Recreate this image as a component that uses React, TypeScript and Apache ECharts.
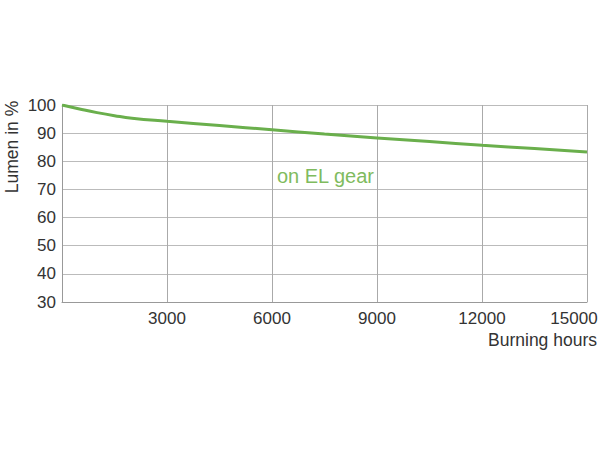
import { useEffect, useRef } from 'react';
import * as echarts from 'echarts';

const hours = [0, 500, 1000, 1500, 2000, 3000, 4500, 6000, 7500, 9000, 10500, 12000, 13500, 15000];
const lumen = [100, 98.6, 97.3, 96.2, 95.3, 94.2, 92.7, 91.2, 89.7, 88.3, 87.0, 85.7, 84.5, 83.3];
const seriesLabel = 'on EL gear';
const labelAt = [6140, 74.8];
const yTitle = 'Lumen in %';
const xTitle = 'Burning hours';

const FONT = '"Liberation Sans", Arial, sans-serif';
const TEXT = '#333';

export default function App() {
  const chartRef = useRef<HTMLDivElement>(null);

  useEffect(() => {
    if (!chartRef.current) return;
    const chart = echarts.init(chartRef.current, undefined, { renderer: 'svg' });

    chart.setOption({
      animation: false,
      grid: { left: 62, right: 13, top: 105, bottom: 148, outerBoundsMode: 'none', containLabel: false },
      graphic: [
        {
          type: 'text',
          x: 12,
          y: 147,
          rotation: Math.PI / 2,
          style: {
            text: yTitle,
            fill: TEXT,
            font: `17.5px ${FONT}`,
            align: 'center',
            verticalAlign: 'middle',
          },
        },
      ],
      xAxis: {
        type: 'value',
        min: 0,
        max: 15000,
        interval: 3000,
        name: xTitle,
        nameLocation: 'end',
        nameGap: 0,
        nameTextStyle: {
          color: TEXT,
          fontSize: 17.5,
          fontFamily: FONT,
          align: 'right',
          verticalAlign: 'top',
          padding: [29, -10, 0, 0],
        },
        axisLine: { show: true, lineStyle: { color: '#999', width: 1 } },
        axisTick: { show: false },
        axisLabel: {
          color: TEXT,
          fontSize: 17,
          fontFamily: FONT,
          margin: 8,
          formatter: (v: number) => (v === 0 ? '' : v === 15000 ? `{last|${v}}` : String(v)),
          rich: {
            last: { color: TEXT, fontSize: 17, fontFamily: FONT, padding: [0, 26, 0, 0] },
          },
        },
        splitLine: { show: true, lineStyle: { color: '#aaa', width: 1 } },
      },
      yAxis: {
        type: 'value',
        min: 30,
        max: 100,
        interval: 10,
        axisLine: { show: true, lineStyle: { color: '#999', width: 1 } },
        axisTick: { show: false },
        axisLabel: { color: TEXT, fontSize: 17, fontFamily: FONT, margin: 6 },
        splitLine: { show: true, lineStyle: { color: '#bbb', width: 1 } },
      },
      series: [
        {
          type: 'line',
          data: hours.map((h, i) => [h, lumen[i]]),
          smooth: 0.5,
          showSymbol: false,
          lineStyle: { color: '#6aaf4c', width: 3 },
          itemStyle: { color: '#6aaf4c' },
          markPoint: {
            silent: true,
            symbol: 'rect',
            symbolSize: 0,
            data: [
              {
                coord: labelAt,
                label: {
                  show: true,
                  formatter: seriesLabel,
                  color: '#7fbb5e',
                  fontSize: 20,
                  fontFamily: FONT,
                  align: 'left',
                  position: 'inside',
                },
              },
            ],
          },
        },
      ],
    });

    return () => chart.dispose();
  }, []);

  return (
    <div
      ref={chartRef}
      style={{ position: 'fixed', left: 0, top: 0, width: 600, height: 450, background: '#fff' }}
    />
  );
}
